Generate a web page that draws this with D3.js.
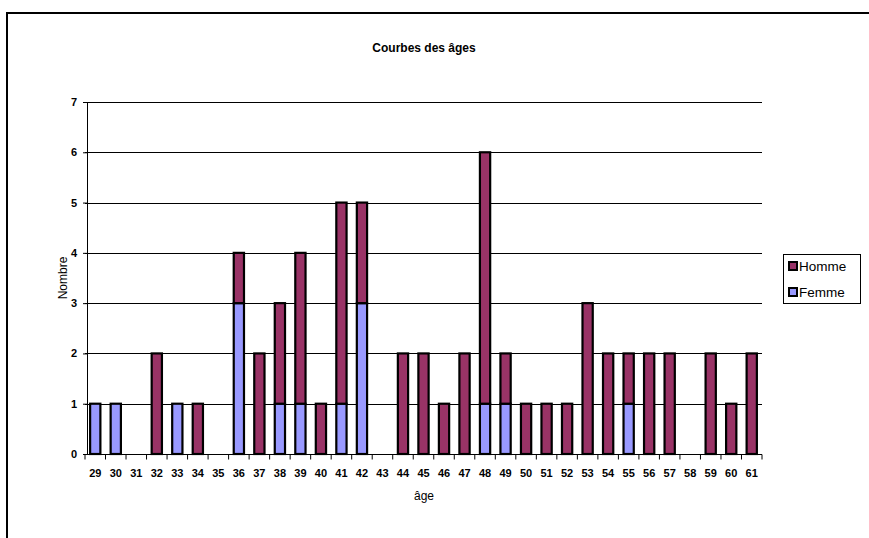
<!DOCTYPE html>
<html>
<head>
<meta charset="utf-8">
<script src="https://cdn.jsdelivr.net/npm/d3@7"></script>
<style>
  html, body { margin: 0; padding: 0; background: #fff; }
  text { font-family: "Liberation Sans", Arial, sans-serif; }
</style>
</head>
<body>
<svg id="chart" width="869" height="538"></svg>
<script>
// Age distribution, stacked by sex
const ages = ["29","30","31","32","33","34","35","36","37","38","39","40","41","42","43","44","45","46","47","48","49","50","51","52","53","54","55","56","57","58","59","60","61"];
const femme = [1,1,0,0,1,0,0,3,0,1,1,0,1,3,0,0,0,0,0,1,1,0,0,0,0,0,1,0,0,0,0,0,0];
const homme = [0,0,0,2,0,1,0,1,2,2,3,1,4,2,0,2,2,1,2,5,1,1,1,1,3,2,1,2,2,0,2,1,2];
const yTicks = [0,1,2,3,4,5,6,7];
const seriesNames = ["Femme", "Homme"];
const seriesColors = { Femme: "#9999FF", Homme: "#993366" };

const svg = d3.select("#chart");

// Outer frame (top and left edges)
svg.append("line").attr("x1", 7).attr("x2", 869).attr("y1", 13).attr("y2", 13)
  .attr("stroke", "#000").attr("stroke-width", 2);
svg.append("line").attr("x1", 7).attr("x2", 7).attr("y1", 12).attr("y2", 538)
  .attr("stroke", "#000").attr("stroke-width", 2);

const plotLeft = 85, plotRight = 762, plotTop = 102, plotBottom = 454;

const x = d3.scaleBand().domain(ages).range([plotLeft, plotRight]).paddingInner(0.5).paddingOuter(0.25);
const xOuter = d3.scaleBand().domain(ages).range([plotLeft, plotRight]);
const y = d3.scaleLinear().domain([0, 7]).range([plotBottom, plotTop]);

// Gridlines
svg.append("g").selectAll("line").data(yTicks.filter(d => d > 0)).join("line")
  .attr("x1", plotLeft).attr("x2", plotRight)
  .attr("y1", d => Math.round(y(d)) + 0.5).attr("y2", d => Math.round(y(d)) + 0.5)
  .attr("stroke", "#000").attr("stroke-width", 1);

// Stacked bars
const rows = ages.map((a, i) => ({ age: a, Femme: femme[i], Homme: homme[i] }));
const stack = d3.stack().keys(seriesNames)(rows);
svg.append("g").selectAll("g").data(stack).join("g")
  .attr("fill", d => seriesColors[d.key])
  .selectAll("rect").data(d => d.filter(s => s[1] - s[0] > 0)).join("rect")
  .attr("x", d => x(d.data.age))
  .attr("width", x.bandwidth())
  .attr("y", d => y(d[1]))
  .attr("height", d => y(d[0]) - y(d[1]))
  .attr("stroke", "#000").attr("stroke-width", 2.2);

// Y axis
const yAxis = svg.append("g").attr("transform", `translate(${plotLeft + 2},0)`)
  .call(d3.axisLeft(y).tickValues(yTicks).tickSize(4).tickPadding(6).tickFormat(d3.format("d")));
yAxis.select(".domain").attr("stroke", "#000");
yAxis.selectAll(".tick line").attr("stroke", "#000");
yAxis.selectAll("text").attr("font-size", 11).attr("font-weight", "bold").attr("fill", "#000");

// X axis with tick marks between categories
const xAxisG = svg.append("g").attr("transform", `translate(0,${plotBottom + 0.5})`);
xAxisG.append("line").attr("x1", plotLeft).attr("x2", plotRight).attr("stroke", "#000");
xAxisG.selectAll("line.tk").data(ages.concat(["end"])).join("line").attr("class", "tk")
  .attr("x1", (d, i) => i < ages.length ? xOuter(d) : plotRight)
  .attr("x2", (d, i) => i < ages.length ? xOuter(d) : plotRight)
  .attr("y1", 0).attr("y2", 5).attr("stroke", "#000");
xAxisG.selectAll("text").data(ages).join("text")
  .attr("x", d => xOuter(d) + xOuter.bandwidth() / 2)
  .attr("y", 22)
  .attr("text-anchor", "middle")
  .attr("font-size", 11).attr("font-weight", "bold")
  .text(d => d);

// Titles
svg.append("text").attr("x", 424).attr("y", 52).attr("text-anchor", "middle")
  .attr("font-size", 12).attr("font-weight", "bold").text("Courbes des âges");
svg.append("text").attr("x", 424).attr("y", 500).attr("text-anchor", "middle")
  .attr("font-size", 12).text("âge");
svg.append("text").attr("transform", "translate(67,278) rotate(-90)").attr("text-anchor", "middle")
  .attr("font-size", 12).text("Nombre");

// Legend
const lg = svg.append("g");
lg.append("rect").attr("x", 783.5).attr("y", 254.5).attr("width", 77).attr("height", 49)
  .attr("fill", "#fff").attr("stroke", "#000");
["Homme", "Femme"].forEach((k, i) => {
  const cy = 266 + i * 26;
  lg.append("rect").attr("x", 789).attr("y", cy - 4).attr("width", 8).attr("height", 8)
    .attr("fill", seriesColors[k]).attr("stroke", "#000").attr("stroke-width", 2);
  lg.append("text").attr("x", 799).attr("y", cy + 5).attr("font-size", 13.5).text(k);
});
</script>
</body>
</html>
